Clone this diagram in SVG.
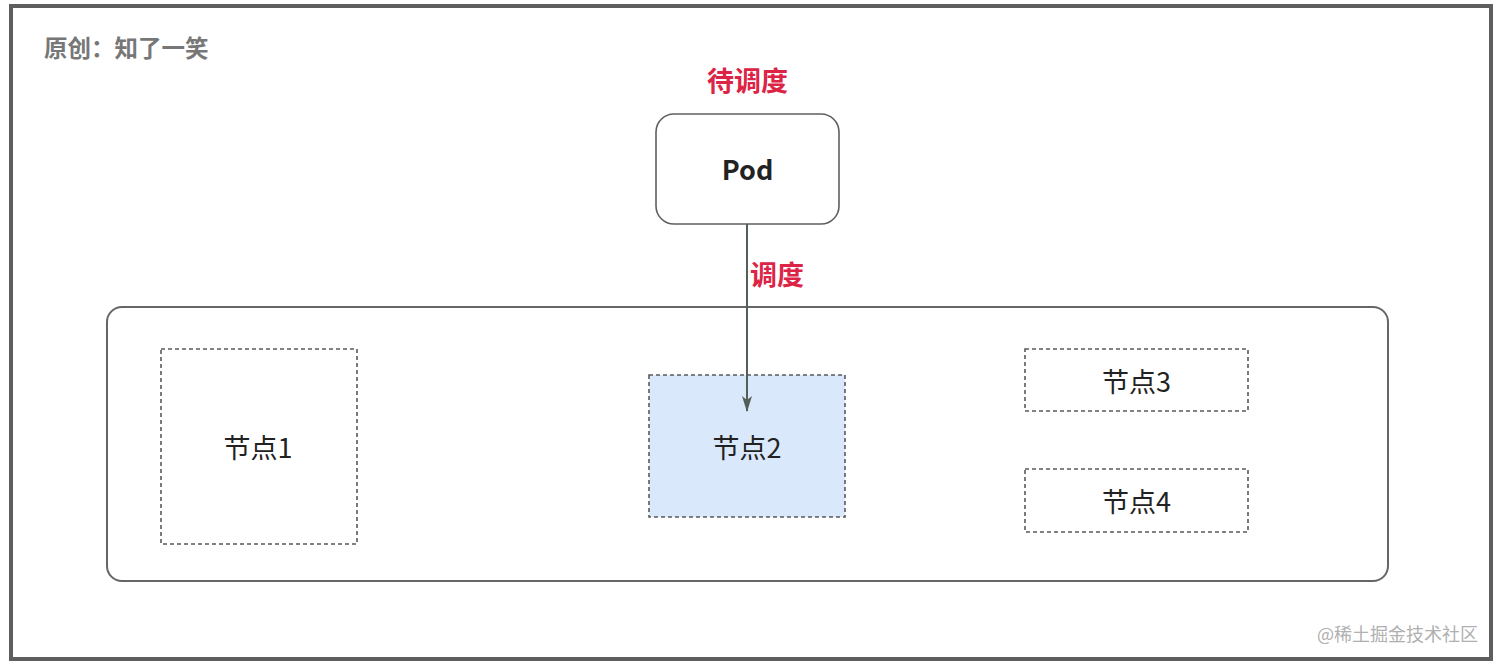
<svg xmlns="http://www.w3.org/2000/svg" width="1500" height="664" viewBox="0 0 1500 664">
<style>
.cjk{font-family:"Noto Sans CJK SC","Noto Sans",sans-serif}
.red{fill:#dc2447;font-weight:bold;font-size:27px}
.node{fill:#fff;stroke:#5a5a5a;stroke-width:1.6;stroke-dasharray:4 3}
.lbl{fill:#222;font-size:27px;text-anchor:middle;dominant-baseline:central}
</style>
<defs>
<marker id="arr" viewBox="0 0 16 10" refX="15" refY="5" markerWidth="16" markerHeight="10" markerUnits="userSpaceOnUse" orient="auto">
<path d="M0 0 L16 5 L0 10 L4 5 Z" fill="#555f5a"/>
</marker>
</defs>
<rect x="0" y="0" width="1500" height="664" fill="#fff"/>
<rect x="11" y="6" width="1480" height="653" fill="none" stroke="#5e5e5e" stroke-width="4"/>
<text x="44" y="57" class="cjk" font-size="23.5" font-weight="bold" fill="#777">原创：知了一笑</text>
<text x="1478" y="641" class="cjk" font-size="18" fill="#b0b0b0" text-anchor="end">@稀土掘金技术社区</text>
<g id="cluster">
<rect x="107" y="307" width="1281" height="274" rx="15" fill="none" stroke="#666" stroke-width="2"/>
</g>
<g id="pod">
<rect x="656" y="114" width="183" height="110" rx="18" fill="#fff" stroke="#5f5f5f" stroke-width="1.6"/>
<text x="747.5" y="168" class="cjk" font-size="27" font-weight="bold" fill="#222" text-anchor="middle" dominant-baseline="central">Pod</text>
<text x="747.5" y="79" class="cjk red" text-anchor="middle" dominant-baseline="central">待调度</text>
</g>
<g id="node1">
<rect x="161" y="349" width="196" height="195" class="node"/>
<text x="258" y="446" class="cjk lbl">节点1</text>
</g>
<g id="node2">
<rect x="649" y="375" width="196" height="142" class="node" style="fill:#dae8fc"/>
<text x="747" y="446" class="cjk lbl">节点2</text>
</g>
<g id="node3">
<rect x="1025" y="349" width="223" height="62" class="node"/>
<text x="1136.5" y="380" class="cjk lbl">节点3</text>
</g>
<g id="node4">
<rect x="1025" y="469" width="223" height="63" class="node"/>
<text x="1136.5" y="500" class="cjk lbl">节点4</text>
</g>
<g id="connectors">
<line x1="747" y1="224" x2="747" y2="411" stroke="#555f5a" stroke-width="2" marker-end="url(#arr)"/>
<text x="750" y="273" class="cjk red" dominant-baseline="central">调度</text>
</g>
</svg>
